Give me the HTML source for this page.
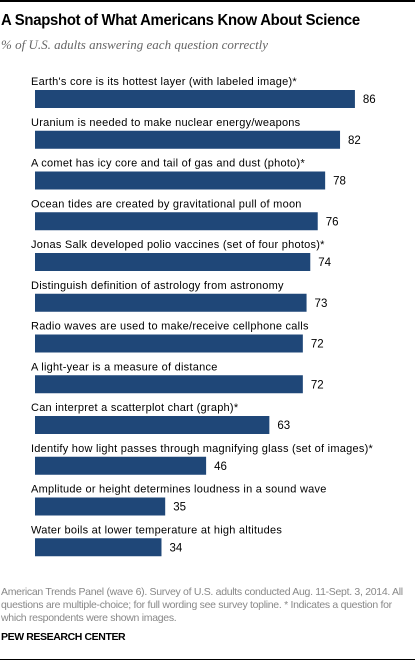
<!DOCTYPE html>
<html><head><meta charset="utf-8"><style>
body{margin:0;background:#fff;width:415px;height:661px;overflow:hidden;position:relative;font-family:"Liberation Sans",sans-serif}
.ab{position:absolute;white-space:nowrap}
</style></head><body>
<div class="ab" style="left:0;top:0;width:415px;height:2px;background:#000"></div>
<div class="ab" style="left:1px;top:12px;font-size:16px;font-weight:bold;letter-spacing:-0.3px;color:#000;transform:scaleX(0.93);transform-origin:left">A Snapshot of What Americans Know About Science</div>
<div class="ab" style="left:1px;top:37px;font-family:'Liberation Serif',serif;font-style:italic;font-size:13px;color:#666">% of U.S. adults answering each question correctly</div>
<svg id="chart" class="ab" style="left:0;top:0" width="415" height="580"></svg>
<div class="ab" style="left:1px;top:586px;font-size:10.5px;line-height:13px;color:#888;white-space:normal;width:414px;letter-spacing:-0.3px">American Trends Panel (wave 6). Survey of U.S. adults conducted Aug. 11-Sept. 3, 2014. All questions are multiple-choice; for full wording see survey topline. * Indicates a question for which respondents were shown images.</div>
<div class="ab" style="left:1px;top:631px;font-size:10.5px;font-weight:bold;color:#000;letter-spacing:-0.4px">PEW RESEARCH CENTER</div>
<div class="ab" style="left:0;top:659px;width:415px;height:1px;background:#000"></div>
<script>
const categories=["Earth's core is its hottest layer (with labeled  image)*","Uranium is needed  to make nuclear energy/weapons","A comet has icy core and tail of gas and dust (photo)*","Ocean tides are created by gravitational pull of moon","Jonas Salk developed  polio vaccines (set of four photos)*","Distinguish definition of astrology from astronomy","Radio waves are used to make/receive cellphone calls","A light-year is a measure of distance","Can interpret a scatterplot chart (graph)*","Identify how  light passes through magnifying glass (set of images)*","Amplitude or height determines loudness in a  sound wave","Water boils at lower temperature at high altitudes"];
const values=[86,82,78,76,74,73,72,72,63,46,35,34];
const svg=document.getElementById('chart');
const NS='http://www.w3.org/2000/svg';
const x=v=>35+v*3.72;
const y=i=>90+i*40.75;
categories.forEach((c,i)=>{
  const t=document.createElementNS(NS,'text');
  
  
  t.setAttribute('x',31);t.setAttribute('y',y(i)-5);
  t.setAttribute('font-size','11');t.setAttribute('fill','#000');
  t.setAttribute('font-family','Liberation Sans, sans-serif');
  t.setAttribute('letter-spacing','0.25');
  t.textContent=c;svg.appendChild(t);
  const r=document.createElementNS(NS,'rect');
  
  
  r.setAttribute('x',x(0));r.setAttribute('y',y(i));
  r.setAttribute('width',x(values[i])-x(0));r.setAttribute('height',18);
  r.setAttribute('fill','#1f4778');svg.appendChild(r);
  const v=document.createElementNS(NS,'text');
  
  
  v.setAttribute('x',x(values[i])+8);v.setAttribute('y',y(i)+13);
  v.setAttribute('font-size','11.5');v.setAttribute('fill','#000');
  v.setAttribute('font-family','Liberation Sans, sans-serif');
  v.textContent=values[i];svg.appendChild(v);
});
</script>
</body></html>
